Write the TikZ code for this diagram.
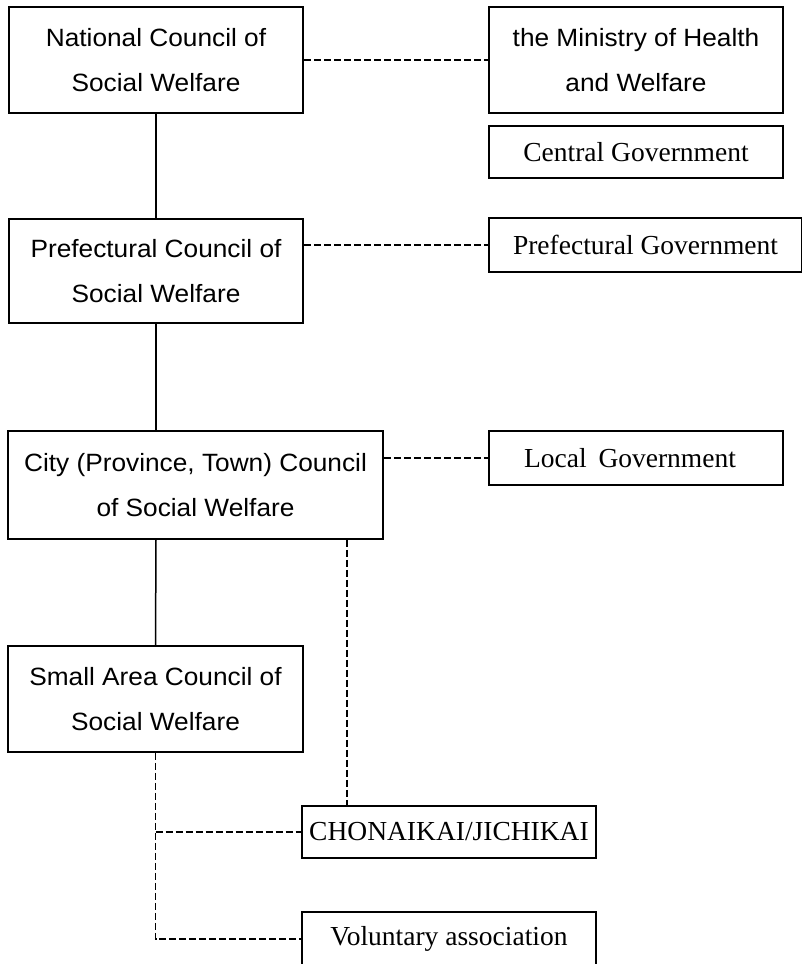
\documentclass[tikz,border=0pt]{standalone}
\usepackage{fontspec}
\setmainfont{Liberation Serif}
\newfontfamily\gothic[FakeStretch=1.05]{Liberation Sans}
\begin{document}
\begin{tikzpicture}[x=1pt,y=-1pt,
  council/.style={draw, line width=1.6pt, inner sep=0pt, align=center,
     font=\gothic\fontsize{25}{45}\selectfont},
  gov/.style={draw, line width=1.6pt, inner sep=0pt, align=center,
     font=\fontsize{27.5}{32}\selectfont},
  solidlink/.style={line width=1.5pt},
  dashlink/.style={line width=1.5pt, dash pattern=on 7pt off 3pt}]
\useasboundingbox (0,0) rectangle (801,964);
\node[council, minimum width=294pt, minimum height=106pt] (nat) at (156,60) {National Council of\\Social Welfare};
\node[council, minimum width=294pt, minimum height=106pt] (min) at (636,60) {the Ministry of Health\\and Welfare};
\node[gov, minimum width=294pt, minimum height=52pt] (cen) at (636,152) {Central Government};
\node[council, minimum width=294pt, minimum height=104pt] (pref) at (156,271) {Prefectural Council of\\Social Welfare};
\node[gov, minimum width=313pt, minimum height=54pt] (pgov) at (645.5,245) {Prefectural Government};
\node[council, minimum width=375pt, minimum height=108pt] (city) at (195.5,485) {City (Province, Town) Council\\of Social Welfare};
\node[gov, minimum width=294pt, minimum height=54pt] (lgov) at (636,458) {\hspace*{-12pt}Local\hspace{5pt} Government};
\node[council, minimum width=295pt, minimum height=106pt] (small) at (155.5,699) {Small Area Council of\\Social Welfare};
\node[gov, minimum width=294pt, minimum height=52pt] (chon) at (449,832) {CHONAIKAI/JICHIKAI};
\node[gov, minimum width=294pt, minimum height=54pt] (vol) at (449,939) {Voluntary association};
\coordinate (cd) at (347,0);
% solid hierarchy
\draw[solidlink] (nat.south) -- (pref.north);
\draw[solidlink] (pref.south) -- (pref.south |- city.north);
\draw[solidlink] (pref.south |- city.south) -- (small.north);
% dashed relations
\draw[dashlink] (nat.east) -- (min.west);
\draw[dashlink] (pgov.west -| pref.east) -- (pgov.west);
\draw[dashlink] (lgov.west -| city.east) -- (lgov.west);
\draw[dashlink] (city.south -| cd) -- (chon.north -| cd);
\draw[dashlink] (small.south) |- (vol.west);
\draw[dashlink] (small.south |- chon.west) -- (chon.west);
\end{tikzpicture}
\end{document}
